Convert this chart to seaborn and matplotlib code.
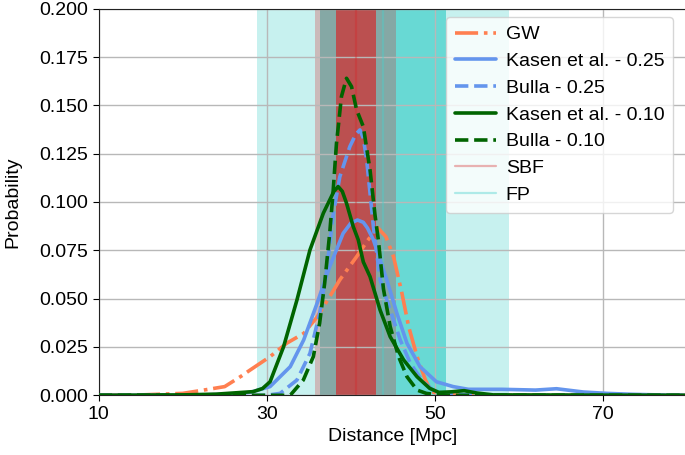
import numpy as np
import pandas as pd
import matplotlib
matplotlib.use("Agg")
import matplotlib.pyplot as plt
import seaborn as sns

# ---------------- data ----------------
gw_x = [10, 15, 20, 22.5, 25, 27, 28, 30.4, 32.4, 34.4, 36.0, 37.5, 38.7, 40.7,
        42.0, 43.2, 44.2, 45.1, 46.1, 46.9, 47.9, 48.9, 49.6, 51, 55, 60, 70, 80]
gw_y = [0.0, 0.0002, 0.001, 0.0027, 0.0045, 0.010, 0.013, 0.020, 0.027, 0.032,
        0.0405, 0.051, 0.0597, 0.0717, 0.080, 0.0868, 0.082, 0.0717, 0.0528,
        0.0355, 0.020, 0.0079, 0.0019, 0.0003, 0.0, 0.0, 0.0, 0.0]

k25_x = [10, 20, 26, 28, 30.4, 32.8, 34.4, 36.0, 37.5, 39.1, 40.0, 40.8, 41.5,
         42.0, 42.7, 44.3, 45.5, 46.7, 48.25, 50.2, 52.2, 54, 58, 62, 64.5,
         67.7, 70.5, 73.6, 77.6, 80]
k25_y = [0.0, 0.0, 0.0006, 0.0015, 0.0045, 0.0148, 0.0286, 0.0476, 0.0666,
         0.0838, 0.0890, 0.0907, 0.0895, 0.0865, 0.0804, 0.0597, 0.0424,
         0.0269, 0.0148, 0.007, 0.0045, 0.0031, 0.0031, 0.0027, 0.0034,
         0.0017, 0.001, 0.0005, 0.0001, 0.0]

b25_x = [10, 30, 31.6, 33.6, 35.15, 36.3, 37.1, 37.9, 38.7, 39.9, 40.6, 41.1,
         41.5, 41.9, 42.3, 42.7, 43.5, 44.7, 45.9, 47.1, 48.6, 49.8, 51, 55, 80]
b25_y = [0.0, 0.0, 0.001, 0.0079, 0.0217, 0.0424, 0.063, 0.093, 0.113, 0.1287,
         0.1350, 0.1373, 0.1330, 0.1218, 0.1046, 0.0873, 0.0597, 0.0441,
         0.0286, 0.0166, 0.007, 0.0027, 0.001, 0.0, 0.0]

k10_x = [10, 20, 24, 28.4, 29.5, 30.4, 32.0, 33.6, 35.15, 36.74, 37.5, 38.0,
         38.5, 39.0, 39.5, 40.3, 40.9, 41.5, 42.3, 43.5, 44.7, 46.3, 47.9,
         49.4, 50.5, 52, 53.5, 55, 57, 80]
k10_y = [0.0, 0.0002, 0.0006, 0.0019, 0.0035, 0.007, 0.025, 0.0493, 0.0752,
         0.0942, 0.101, 0.1055, 0.108, 0.1055, 0.0994, 0.0873, 0.0804, 0.069,
         0.0614, 0.0441, 0.0303, 0.0183, 0.0096, 0.0036, 0.0015, 0.0018,
         0.0024, 0.0012, 0.0002, 0.0]

b10_x = [10, 30, 32.8, 34.36, 35.55, 36.3, 36.9, 37.5, 37.9, 38.3, 38.9, 39.5,
         40.1, 40.7, 41.5, 42.3, 42.9, 43.3, 43.9, 44.7, 45.7, 46.7, 47.9, 49,
         51, 80]
b10_y = [0.0, 0.0, 0.0, 0.0079, 0.020, 0.0373, 0.058, 0.0838, 0.105, 0.130,
         0.1546, 0.164, 0.1597, 0.1477, 0.139, 0.1166, 0.093, 0.080, 0.055,
         0.0355, 0.020, 0.0096, 0.0027, 0.001, 0.0, 0.0]

# SBF and FP distance estimates: mean, 1 sigma
sbf_mean, sbf_sigma = 40.6, 2.4
fp_mean, fp_sigma = 43.9, 7.5

series_labels = ["GW", "Kasen et al. - 0.25", "Bulla - 0.25",
                 "Kasen et al. - 0.10", "Bulla - 0.10"]
series_x = [gw_x, k25_x, b25_x, k10_x, b10_x]
series_y = [gw_y, k25_y, b25_y, k10_y, b10_y]
series_colors = ["coral", "cornflowerblue", "cornflowerblue", "darkgreen", "darkgreen"]
series_styles = ["-.", "-", "--", "-", "--"]

x_ticks = [10, 30, 50, 70]
y_ticks = [0.0, 0.025, 0.05, 0.075, 0.1, 0.125, 0.15, 0.175, 0.2]

# ---------------- style ----------------
sns.set_style("ticks")
plt.rcParams["font.family"] = ["Liberation Sans", "DejaVu Sans"]
plt.rcParams["axes.axisbelow"] = "line"
plt.rcParams["font.size"] = 14
for k in ["text.color", "axes.labelcolor", "xtick.color", "ytick.color"]:
    plt.rcParams[k] = "black"

fig = plt.figure(figsize=(6.85, 4.55), dpi=100)
ax = fig.add_axes([0.14409, 0.1312, 0.8584, 0.8497])

# bands
ax.axvspan(fp_mean - 2 * fp_sigma, fp_mean + 2 * fp_sigma, color="mediumturquoise",
           alpha=0.3, lw=0, zorder=1)
ax.axvspan(fp_mean - fp_sigma, fp_mean + fp_sigma, color="mediumturquoise",
           alpha=0.75, lw=0, zorder=1)
ax.axvspan(sbf_mean - 2 * sbf_sigma, sbf_mean + 2 * sbf_sigma, color="tab:red",
           alpha=0.27, lw=0, zorder=1)
ax.axvspan(sbf_mean - sbf_sigma, sbf_mean + sbf_sigma, color="tab:red",
           alpha=0.68, lw=0, zorder=1)

for lab, xs, ys, c, ls in zip(series_labels, series_x, series_y, series_colors, series_styles):
    df = pd.DataFrame({"x": xs, "y": ys})
    sns.lineplot(data=df, x="x", y="y", ax=ax, color=c, linestyle=ls, lw=2.6,
                 label=lab, zorder=3)

ax.axvline(sbf_mean, color="tab:red", alpha=0.35, lw=1.6, label="SBF", zorder=2)
ax.axvline(fp_mean, color="mediumturquoise", alpha=0.4, lw=1.6, label="FP", zorder=2)

ax.set_xlim(10, 80)
ax.set_ylim(0, 0.2)
ax.set_xticks(x_ticks)
ax.set_yticks(y_ticks)
ax.set_yticklabels([f"{v:.3f}" for v in y_ticks])
ax.grid(True, color="#b8b8b8", lw=1.0)
ax.tick_params(labelsize=14, length=4, width=0.8, colors="black")
for s in ax.spines.values():
    s.set_linewidth(0.8)
    s.set_color("#222222")
ax.set_xlabel("Distance [Mpc]", fontsize=14)
ax.set_ylabel("Probability", fontsize=14, labelpad=13)

leg = ax.legend(loc="upper right", bbox_to_anchor=(0.9767, 0.9785), fontsize=14,
                frameon=True, fancybox=True, framealpha=0.8, handlelength=2.1,
                handletextpad=0.5, labelspacing=0.47, borderpad=0.45,
                borderaxespad=0.0)
leg.get_frame().set_edgecolor("#cccccc")

fig.savefig("out.png", dpi=100)
